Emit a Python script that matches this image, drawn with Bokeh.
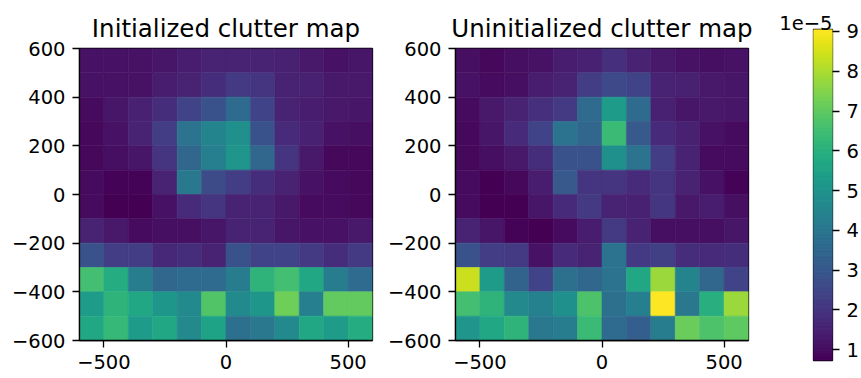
import numpy as np
from bokeh.plotting import figure
from bokeh.models import LinearColorMapper, FixedTicker, ColumnDataSource, Range1d
from bokeh.layouts import row, column
from bokeh.palettes import Viridis256
from bokeh.transform import transform
from bokeh.embed import file_html
from bokeh.resources import INLINE

# Cell centres of the 12 x 12 clutter grid (metres); rows are listed top to bottom
x_centers = [-550, -450, -350, -250, -150, -50, 50, 150, 250, 350, 450, 550]
y_centers = [550, 450, 350, 250, 150, 50, -50, -150, -250, -350, -450, -550]

# Clutter power per cell, in units of 1e-5
initialized = [
    [1.15, 1.15, 1.15, 1.23, 1.40, 1.56, 1.56, 1.56, 1.48, 1.31, 1.15, 1.23],
    [1.15, 1.15, 1.15, 1.40, 1.56, 1.81, 2.14, 1.98, 1.56, 1.48, 1.31, 1.31],
    [0.98, 1.23, 1.48, 1.81, 2.39, 2.81, 3.64, 2.39, 1.56, 1.40, 1.31, 1.23],
    [0.90, 1.15, 1.56, 2.23, 3.89, 4.47, 4.89, 2.81, 1.73, 1.48, 1.15, 1.06],
    [0.90, 1.06, 1.23, 1.98, 3.48, 4.31, 5.06, 3.48, 1.98, 1.31, 0.90, 0.90],
    [0.98, 0.81, 0.81, 1.56, 4.06, 2.64, 2.23, 1.81, 1.56, 1.15, 0.98, 0.90],
    [0.98, 0.73, 0.75, 1.15, 1.73, 1.98, 1.56, 1.56, 1.31, 0.98, 0.98, 0.90],
    [1.56, 1.31, 0.98, 1.06, 1.06, 1.23, 1.56, 1.56, 1.23, 1.15, 1.15, 1.31],
    [2.81, 2.23, 2.23, 1.65, 1.81, 1.56, 2.81, 2.39, 2.39, 2.14, 1.81, 2.14],
    [6.55, 5.89, 4.22, 3.48, 3.64, 3.64, 4.22, 6.14, 6.55, 5.72, 4.22, 3.64],
    [5.31, 6.14, 5.72, 5.14, 4.72, 6.80, 4.72, 5.14, 7.22, 4.31, 7.05, 7.05],
    [5.72, 6.30, 5.31, 5.72, 4.64, 5.56, 3.81, 4.06, 4.72, 5.72, 5.31, 5.89],
]

uninitialized = [
    [1.06, 0.90, 1.06, 1.15, 1.40, 1.48, 1.90, 1.56, 1.31, 1.15, 1.06, 1.15],
    [1.15, 0.98, 1.06, 1.40, 1.56, 2.23, 2.56, 2.39, 1.56, 1.48, 1.31, 1.23],
    [0.98, 1.31, 1.56, 1.90, 2.14, 3.64, 5.31, 3.64, 1.48, 1.23, 1.31, 1.23],
    [0.90, 1.23, 1.73, 2.39, 3.89, 3.48, 6.39, 3.06, 1.73, 1.48, 1.15, 0.98],
    [0.90, 1.06, 1.31, 1.81, 2.81, 2.81, 4.89, 3.89, 2.23, 1.56, 0.98, 0.98],
    [0.98, 0.75, 0.90, 1.40, 3.06, 1.98, 1.98, 1.73, 1.98, 1.56, 1.15, 0.81],
    [0.98, 0.76, 0.74, 1.23, 1.73, 2.14, 1.56, 1.48, 2.06, 1.31, 1.40, 1.06],
    [1.56, 1.23, 0.81, 0.74, 0.98, 1.40, 2.14, 1.56, 1.06, 1.06, 1.06, 1.23],
    [2.81, 2.23, 2.14, 1.15, 1.73, 1.56, 3.89, 2.14, 2.31, 1.81, 1.73, 1.81],
    [8.38, 5.31, 3.39, 2.39, 3.81, 3.48, 3.89, 5.72, 7.80, 4.47, 3.48, 2.39],
    [6.55, 6.14, 4.64, 4.39, 4.89, 6.72, 3.81, 4.31, 9.05, 4.06, 5.97, 7.80],
    [5.06, 5.72, 6.14, 4.06, 4.22, 6.39, 3.64, 3.23, 4.22, 7.14, 6.72, 6.97],
]

x_ticks = [-500, 0, 500]
y_ticks = [-600, -400, -200, 0, 200, 400, 600]
cbar_ticks = [1, 2, 3, 4, 5, 6, 7, 8, 9]

FONT = "DejaVu Sans"
TICK_SIZE = "19.5px"
TITLE_SIZE = "24.5px"

all_vals = np.array(initialized + uninitialized)
vmin, vmax = float(all_vals.min()), float(all_vals.max())
mapper = LinearColorMapper(palette=Viridis256, low=vmin, high=vmax)


def minus(v):
    return str(v).replace("-", "\u2212")


def style_axis(ax, ticks):
    ax.ticker = FixedTicker(ticks=ticks)
    ax.major_label_overrides = {t: minus(t) for t in ticks}
    ax.major_label_text_font = FONT
    ax.major_label_text_font_size = TICK_SIZE
    ax.major_label_text_color = "black"
    ax.major_label_standoff = 7
    ax.major_tick_in = 0
    ax.major_tick_out = 7
    ax.major_tick_line_width = 1.3
    ax.major_tick_line_color = "black"
    ax.minor_tick_line_color = None
    ax.axis_line_color = "black"
    ax.axis_line_width = 1.3


def style_title(t, size, align, standoff):
    t.text_font = FONT
    t.text_font_size = size
    t.text_font_style = "normal"
    t.text_color = "black"
    t.align = align
    t.standoff = standoff


def heatmap(title, grid, width, border_left, border_right):
    xs, ys, vs = [], [], []
    for yc, vals in zip(y_centers, grid):
        for xc, v in zip(x_centers, vals):
            xs.append(xc)
            ys.append(yc)
            vs.append(v)
    src = ColumnDataSource(dict(x=xs, y=ys, v=vs))
    p = figure(width=width, height=378,
               x_range=Range1d(-600, 600), y_range=Range1d(-600, 600),
               output_backend="svg", toolbar_location=None,
               min_border_left=border_left, min_border_right=border_right,
               min_border_top=48, min_border_bottom=38, title=title)
    p.rect(x="x", y="y", width=100, height=100, source=src,
           fill_color=transform("v", mapper), line_color=transform("v", mapper),
           line_width=0.6)
    style_title(p.title, TITLE_SIZE, "center", 12)
    p.grid.grid_line_color = None
    p.outline_line_color = "black"
    p.outline_line_width = 1.3
    p.outline_line_alpha = 1
    style_axis(p.xaxis[0], x_ticks)
    style_axis(p.yaxis[0], y_ticks)
    return p


p1 = heatmap("Initialized clutter map", initialized, 377, 79, 5)
p2 = heatmap("Uninitialized clutter map", uninitialized, 393, 78, 22)

# Colour bar built from the shared viridis mapper
n = len(Viridis256)
step = (vmax - vmin) / n
levels = [vmin + (i + 0.5) * step for i in range(n)]
cb = figure(width=91, height=378, x_range=Range1d(0, 1), y_range=Range1d(vmin, vmax),
            output_backend="svg", toolbar_location=None,
            x_axis_location=None, y_axis_location="right",
            min_border_left=43, min_border_right=28,
            min_border_top=29, min_border_bottom=18, title="1e\u22125")
cb.rect(x=0.5, y=levels, width=1, height=step * 1.02, color=Viridis256)
cb.grid.grid_line_color = None
cb.outline_line_color = "black"
cb.outline_line_width = 1.3
cb.outline_line_alpha = 1
style_title(cb.title, TICK_SIZE, "right", 0)
style_axis(cb.yaxis[0], cbar_ticks)
cb.yaxis[0].axis_line_color = None

layout = row(p1, p2, column(cb))
open("out.html", "w").write(file_html(layout, INLINE))
